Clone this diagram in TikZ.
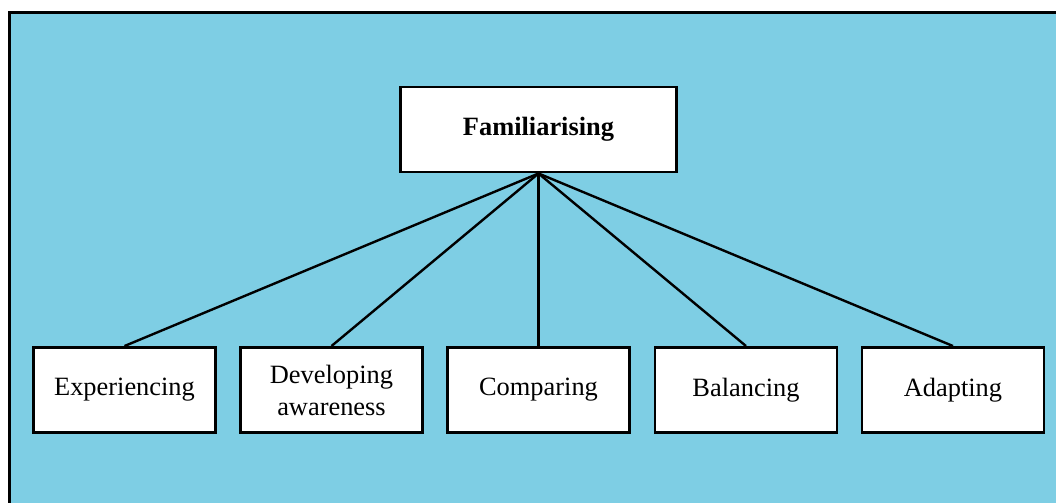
\documentclass[tikz,border=0pt]{standalone}
\usepackage{fontspec}
\setmainfont{Liberation Serif}
\definecolor{skyfill}{RGB}{126,206,228}
\begin{document}
\begin{tikzpicture}[x=0.75pt,y=-0.75pt,
  box/.style={draw=black,fill=white,line width=2.2pt,minimum width=136.5pt,minimum height=63.75pt,
    inner sep=0pt,align=center,font=\fontsize{19.8}{24}\selectfont},
  topbox/.style={box,minimum width=207pt,font=\fontsize{19.8}{24}\selectfont\bfseries},
  link/.style={line width=1.8pt}]
  \useasboundingbox (0,0) rectangle (1056,503);
  % panel with its frame on the left and top edges
  \fill[skyfill] (9.5,12.7) rectangle (1056,503);
  \draw[line width=2.2pt] (9.5,503) -- (9.5,12.7) -- (1056,12.7);
  % nodes
  \node[topbox] (fam) at (538.5,129.5) {Familiarising};
  \node[box] (exp) at (124.5,390) {Experiencing};
  \node[box] (dev) at (331.5,390) {Developing\\awareness};
  \node[box] (com) at (538.5,390) {Comparing};
  \node[box] (bal) at (746,390) {Balancing};
  \node[box] (ada) at (953,390) {Adapting};
  % connectors
  \foreach \n in {exp,dev,com,bal,ada}
    \draw[link] (fam.south) -- (\n.north);
\end{tikzpicture}
\end{document}
